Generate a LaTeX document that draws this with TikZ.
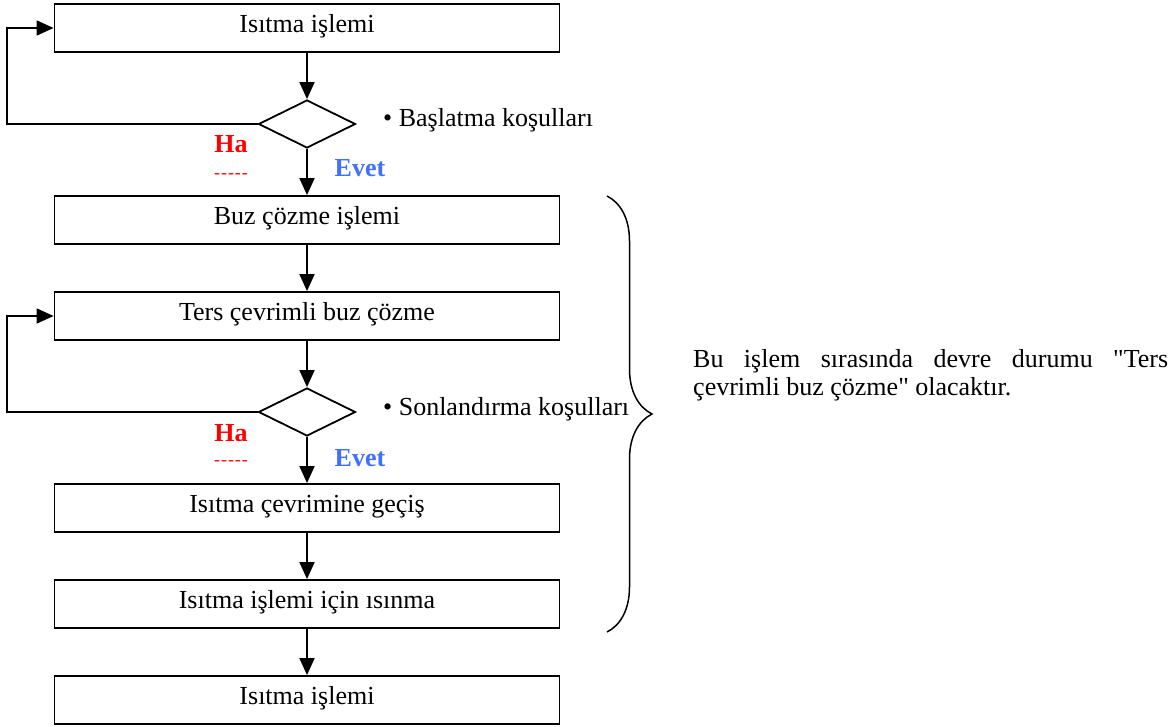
\documentclass[tikz,border=0pt]{standalone}
\usepackage{fontspec}
\setmainfont{Liberation Serif}
% same face without the TeX input mapping, so that " stays a straight quote
\newfontfamily\plainquotes{Liberation Serif}
\usetikzlibrary{shapes.geometric,arrows.meta,decorations.pathreplacing}
\definecolor{evetblue}{RGB}{64,112,255}
\begin{document}
\begin{tikzpicture}[x=1pt,y=-1pt,
  font=\fontsize{26}{28}\selectfont,
  stepbox/.style={draw, line width=1.8pt, rectangle, minimum width=505pt, minimum height=48pt,
    inner sep=0pt, text height=18pt, text depth=10pt},
  decision/.style={draw, line width=1.8pt, diamond, minimum width=97pt, minimum height=48pt, inner sep=0pt},
  flow/.style={line width=1.8pt, -{Triangle[length=17pt,width=15pt]}},
  noway/.style={text=red, font=\fontsize{26}{28}\selectfont\bfseries},
  yesway/.style={text=evetblue, font=\fontsize{26}{28}\selectfont\bfseries},
  dashmark/.style={text=red, font=\fontsize{18}{18}\selectfont}
]
\useasboundingbox (0,0) rectangle (1173,726);

% process steps
\node[stepbox] (b1) at (307,28)  {Isıtma işlemi};
\node[decision] (d1) at (307,124) {};
\node[stepbox] (b2) at (307,220) {Buz çözme işlemi};
\node[stepbox] (b3) at (307,316) {Ters çevrimli buz çözme};
\node[decision] (d2) at (307,412) {};
\node[stepbox] (b4) at (307,508) {Isıtma çevrimine geçiş};
\node[stepbox] (b5) at (307,604) {Isıtma işlemi için ısınma};
\node[stepbox] (b6) at (307,700) {Isıtma işlemi};

% main flow
\draw[flow] (b1.south) -- (d1.north);
\draw[flow] (d1.south) -- (b2.north);
\draw[flow] (b2.south) -- (b3.north);
\draw[flow] (b3.south) -- (d2.north);
\draw[flow] (d2.south) -- (b4.north);
\draw[flow] (b4.south) -- (b5.north);
\draw[flow] (b5.south) -- (b6.north);

% "no" loops back to the step above
\coordinate (l1) at (7,124);
\coordinate (l2) at (7,412);
\draw[flow] (d1.west) -- (l1) |- (b1.west);
\draw[flow] (d2.west) -- (l2) |- (b3.west);

% branch labels
\node[noway] (h1) at (231,144) {Ha};
\node[dashmark] (h1d) at (231,176) {-\kern1pt-\kern1pt-\kern1pt-\kern1pt-};
\node[yesway] (e1) at (360,168) {Evet};
\node[noway] (h2) at (231,433) {Ha};
\node[dashmark] (h2d) at (231,463) {-\kern1pt-\kern1pt-\kern1pt-\kern1pt-};
\node[yesway] (e2) at (360,458) {Evet};

% conditions
\node[anchor=base west, inner sep=0pt] (c1) at (383,126) {• Başlatma koşulları};
\node[anchor=base west, inner sep=0pt] (c2) at (383,415) {• Sonlandırma koşulları};

% brace over the defrost phase
\draw[line width=1.5pt, decorate, decoration={brace, amplitude=45pt}] (607,196) -- (607,632);

\node[anchor=north west, inner sep=0pt, text width=475pt, align=justify,
      font=\plainquotes\fontsize{26}{28}\selectfont] (note) at (693,349)
  {Bu işlem sırasında devre durumu "Ters çevrimli buz çözme" olacaktır.};
\end{tikzpicture}
\end{document}
